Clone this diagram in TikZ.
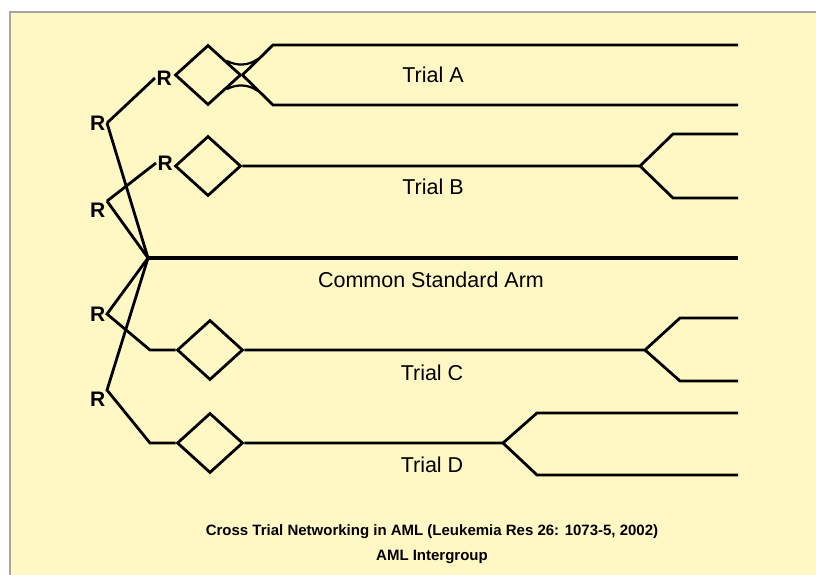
\documentclass[tikz,border=0pt]{standalone}
\usepackage{fontspec}
\setmainfont{Liberation Sans}
\usetikzlibrary{shapes.geometric}
\definecolor{panel}{RGB}{255,248,196}
\definecolor{frame}{RGB}{165,165,165}

\begin{document}
\begin{tikzpicture}[x=1pt, y=-1pt,
    arm/.style={line width=2.8pt, line join=miter},
    rnd/.style={diamond, draw, line width=2.8pt, minimum width=66pt, minimum height=60pt, inner sep=0pt},
    rlab/.style={font=\fontsize{21}{21}\selectfont\bfseries, inner sep=1.5pt},
    trial/.style={font=\fontsize{21.5}{23}\selectfont}]
    \useasboundingbox (0,0) rectangle (816,575);
    \fill[white] (0,0) rectangle (816,575);
    \fill[panel] (10,12) rectangle (816,575);
    \draw[frame, line width=1.5pt] (10,575) -- (10,12) -- (816,12);

    % randomisations
    \coordinate (hub) at (148,258);
    \node[rlab, anchor=east] (r1) at (107,123) {R};
    \node[rlab, anchor=east] (r4) at (107,210) {R};
    \node[rlab, anchor=east] (r5) at (107,314) {R};
    \node[rlab, anchor=east] (r6) at (107,399) {R};
    \node[rlab, anchor=west] (r2) at (155,78) {R};
    \node[rlab, anchor=west] (r3) at (156,163) {R};

    % trials
    \node[rnd] (ta) at (208,75) {};
    \node[rnd] (tb) at (208,166) {};
    \node[rnd] (tc) at (210,350) {};
    \node[rnd] (td) at (210,443) {};

    % trial A, crossed arms
    \draw[arm] (ta.east) -- (273,45) -- (738,45);
    \draw[arm] (ta.east) -- (273,105) -- (738,105);
    \draw[line width=2.2pt] (227,61) .. controls (237,66) and (248,66) .. (258,59);
    \draw[line width=2.2pt] (227,89) .. controls (237,84) and (248,84) .. (258,91);

    % trial B
    \draw[arm] (r1.east) -- (r2.west);
    \draw[arm] (r1.east) -- (hub);
    \draw[arm] (r4.north east) -- (r3.west);
    \draw[arm] (r4.north east) -- (hub);
    \draw[arm] (tb.east) -- (640,166) -- (673,134) -- (738,134);
    \draw[arm] (640,166) -- (673,198) -- (738,198);

    % common arm
    \draw[line width=4pt] (hub) -- (738,258);

    % trial C
    \draw[arm] (hub) -- (r5.east) -- (150,350) -- (tc.west);
    \draw[arm] (tc.east) -- (645,350) -- (680,318) -- (738,318);
    \draw[arm] (645,350) -- (680,381) -- (738,381);

    % trial D
    \draw[arm] (hub) -- (r6.north east) -- (150,443) -- (td.west);
    \draw[arm] (td.east) -- (503,443) -- (537,413) -- (738,413);
    \draw[arm] (503,443) -- (537,475) -- (738,475);

    % labels
    \node[trial] (la) at (433,75) {Trial A};
    \node[trial] (lb) at (433,187) {Trial B};
    \node[trial] (lcsa) at (431,280) {Common Standard Arm};
    \node[trial] (lc) at (432,373) {Trial C};
    \node[trial] (ld) at (432,465) {Trial D};
    \node[font=\fontsize{15}{17}\selectfont\bfseries] (cap1) at (432,532) {Cross Trial Networking in AML (Leukemia Res 26: 1073-5, 2002)};
    \node[font=\fontsize{15}{17}\selectfont\bfseries] (cap2) at (432,557) {AML Intergroup};
\end{tikzpicture}
\end{document}
